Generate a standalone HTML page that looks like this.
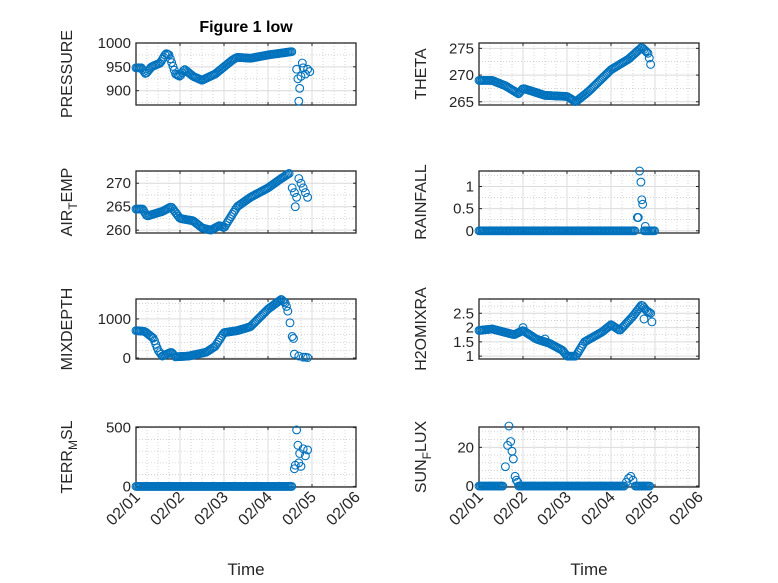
<!DOCTYPE html>
<html><head><meta charset="utf-8"><style>
html,body{margin:0;padding:0;background:#fff}
svg{display:block;font-family:"Liberation Sans","DejaVu Sans",sans-serif}
</style></head><body>
<svg id="s" width="778" height="583" xmlns="http://www.w3.org/2000/svg">
<rect width="778" height="583" fill="#fff"/>
<text x="246" y="32" font-size="16" font-weight="bold" text-anchor="middle" fill="#000">Figure 1 low</text>
<text x="246" y="575" font-size="17" text-anchor="middle" fill="#262626">Time</text>
<text x="589" y="575" font-size="17" text-anchor="middle" fill="#262626">Time</text>
</svg>
<script>
const S=document.getElementById('s');const NS='http://www.w3.org/2000/svg';
function el(t,a,txt){const e=document.createElementNS(NS,t);for(const k in a)e.setAttribute(k,a[k]);if(txt!=null)e.textContent=txt;S.appendChild(e);return e;}
function interp(k,t){for(let i=0;i<k.length-1;i++){if(t>=k[i][0]&&t<=k[i+1][0]){const f=(t-k[i][0])/(k[i+1][0]-k[i][0]||1);return k[i][1]+f*(k[i+1][1]-k[i][1]);}}return null;}
function dense(k,step){const o=[];for(let t=k[0][0];t<=k[k.length-1][0]+1e-9;t+=step)o.push([t,interp(k,t)]);return o;}
const P=[
{x0:136,y0:43,y1:105,lo:870,hi:1000,ticks:[900,950,1000],lab:[['PRESSURE']],lx:72,
 pts:dense([[0,948],[0.12,948],[0.22,935],[0.35,950],[0.55,958],[0.68,978],[0.75,975],[0.9,935],[1.0,930],[1.1,945],[1.3,930],[1.5,922],[1.8,935],[2.2,965],[2.3,970],[2.6,968],[3.0,975],[3.55,982]],0.03).concat([[3.65,945],[3.68,925],[3.7,878],[3.72,905],[3.75,930],[3.78,958],[3.8,948],[3.85,935],[3.9,945],[3.95,940]])},
{x0:479,y0:43,y1:105,lo:264.4,hi:276,ticks:[265,270,275],lab:[['THETA']],lx:426,
 pts:dense([[0,269],[0.3,269],[0.6,268],[0.9,266.5],[1.0,267.5],[1.2,267],[1.5,266.2],[2.0,266],[2.2,265],[2.5,267],[3.0,271],[3.4,273],[3.7,275.2],[3.85,274],[3.9,272]],0.03)},
{x0:136,y0:171,y1:233,lo:259.4,hi:272.6,ticks:[260,265,270],lab:[['AIR'],['T','sub'],['EMP']],lx:72,
 pts:dense([[0,264.5],[0.15,264.5],[0.25,263],[0.6,264],[0.8,265],[1.0,262.5],[1.3,262],[1.5,260.5],[1.7,260],[1.9,261],[2.0,260.5],[2.3,265],[2.6,267],[3.0,269],[3.3,271],[3.5,272.2]],0.03).concat([[3.55,269],[3.6,268],[3.62,265],[3.65,267],[3.7,271],[3.75,270],[3.8,269],[3.85,268],[3.9,267]])},
{x0:479,y0:171,y1:233,lo:-0.05,hi:1.35,ticks:[0,0.5,1],lab:[['RAINFALL']],lx:426,
 pts:dense([[0,0],[3.55,0]],0.03).concat(dense([[3.75,0],[4.0,0]],0.03)).concat([[3.6,0.3],[3.62,0.3],[3.65,1.35],[3.68,1.1],[3.7,0.7],[3.72,0.6],[3.78,0.1]])},
{x0:136,y0:299,y1:359,lo:-26,hi:1510,ticks:[0,1000],lab:[['MIXDEPTH']],lx:72,
 pts:dense([[0,700],[0.2,680],[0.4,500],[0.5,200],[0.6,50],[0.8,150],[0.9,30],[1.2,50],[1.6,150],[1.8,300],[2.0,650],[2.3,700],[2.6,800],[3.0,1250],[3.3,1500],[3.4,1400],[3.45,1200]],0.03).concat([[3.5,900],[3.55,550],[3.58,500],[3.6,100],[3.7,50],[3.8,20],[3.9,10],[3.85,20]])},
{x0:479,y0:299,y1:359,lo:0.9,hi:3.0,ticks:[1,1.5,2,2.5],lab:[['H2OMIXRA']],lx:426,
 pts:dense([[0,1.9],[0.3,1.95],[0.8,1.75],[1.0,1.9],[1.3,1.6],[1.6,1.45],[1.9,1.2],[2.0,1.0],[2.2,1.0],[2.4,1.5],[2.8,1.85],[3.0,2.1],[3.2,1.9],[3.5,2.4],[3.7,2.8],[3.8,2.6],[3.9,2.5],[3.95,2.0]],0.03).concat([[3.75,2.3],[1.0,2.0],[1.5,1.6]])},
{x0:136,y0:427,y1:487,lo:-5,hi:505,ticks:[0,500],lab:[['TERR'],['M','sub'],['SL']],lx:72,
 pts:dense([[0,0],[3.55,0]],0.03).concat([[3.6,150],[3.62,180],[3.65,480],[3.68,350],[3.7,200],[3.72,280],[3.75,170],[3.8,320],[3.85,260],[3.9,310]])},
{x0:479,y0:427,y1:487,lo:-0.5,hi:30.5,ticks:[0,20],lab:[['SUN'],['F','sub'],['LUX']],lx:426,
 pts:dense([[0,0],[0.55,0]],0.03).concat(dense([[0.9,0],[3.3,0]],0.03)).concat(dense([[3.55,0],[3.9,0]],0.03)).concat([[0.6,10],[0.65,21],[0.68,31],[0.72,23],[0.75,18],[0.78,14],[0.82,5],[0.85,3],[0.88,2],[3.35,2],[3.4,4],[3.45,5],[3.5,3]])}
];
const W=220,DX=44;
P.forEach((p,idx)=>{
 const x1=p.x0+W,H=p.y1-p.y0;
 const Y=v=>p.y1-(v-p.lo)/(p.hi-p.lo)*H;
 for(let i=0;i<20;i++){if(i%4==0)continue;const x=p.x0+i*DX/4;el('line',{x1:x,y1:p.y0,x2:x,y2:p.y1,stroke:'#bbb','stroke-width':0.6,'stroke-dasharray':'1 2'});}
 const st=(p.ticks[1]-p.ticks[0])/(p.ticks.length>2?2:5);
 for(let v=Math.ceil(p.lo/st)*st;v<=p.hi;v+=st){const y=Y(v);el('line',{x1:p.x0,y1:y,x2:x1,y2:y,stroke:'#bbb','stroke-width':0.6,'stroke-dasharray':'1 2'});}
 for(let i=1;i<5;i++){const x=p.x0+i*DX;el('line',{x1:x,y1:p.y0,x2:x,y2:p.y1,stroke:'#dcdcdc','stroke-width':1});}
 p.ticks.forEach(v=>{const y=Y(v);el('line',{x1:p.x0,y1:y,x2:x1,y2:y,stroke:'#dcdcdc','stroke-width':1});
  el('line',{x1:p.x0,y1:y,x2:p.x0+3,y2:y,stroke:'#262626'});el('line',{x1:x1,y1:y,x2:x1-3,y2:y,stroke:'#262626'});
  el('text',{x:p.x0-5,y:y+5,'font-size':15,'text-anchor':'end',fill:'#262626'},String(v));});
 for(let i=1;i<5;i++){const x=p.x0+i*DX;el('line',{x1:x,y1:p.y1,x2:x,y2:p.y1-3,stroke:'#262626'});el('line',{x1:x,y1:p.y0,x2:x,y2:p.y0+3,stroke:'#262626'});}
 el('rect',{x:p.x0,y:p.y0,width:W,height:H,fill:'none',stroke:'#262626','stroke-width':1.3});
 p.pts.forEach(([t,v])=>{el('circle',{cx:p.x0+t*DX,cy:Y(v),r:3.9,fill:'none',stroke:'#0072BD','stroke-width':1.1});});
 const cy=(p.y0+p.y1)/2;const tx=el('text',{x:0,y:0,'font-size':16,'text-anchor':'middle',fill:'#262626',transform:`translate(${p.lx},${cy}) rotate(-90)`});
 p.lab.forEach(s=>{const ts=document.createElementNS(NS,'tspan');ts.textContent=s[0];if(s[1]=='sub'){ts.setAttribute('font-size','12');ts.setAttribute('dy','5');}else if(tx.childNodes.length){ts.setAttribute('dy','-5');}tx.appendChild(ts);});
 if(idx>=6){for(let i=0;i<6;i++){const x=p.x0+i*DX;el('text',{x:0,y:0,'font-size':16,'text-anchor':'end',fill:'#262626',transform:`translate(${x+5},${p.y1+11}) rotate(-45)`},'02/0'+(i+1));}}
});
</script>
</body></html>
